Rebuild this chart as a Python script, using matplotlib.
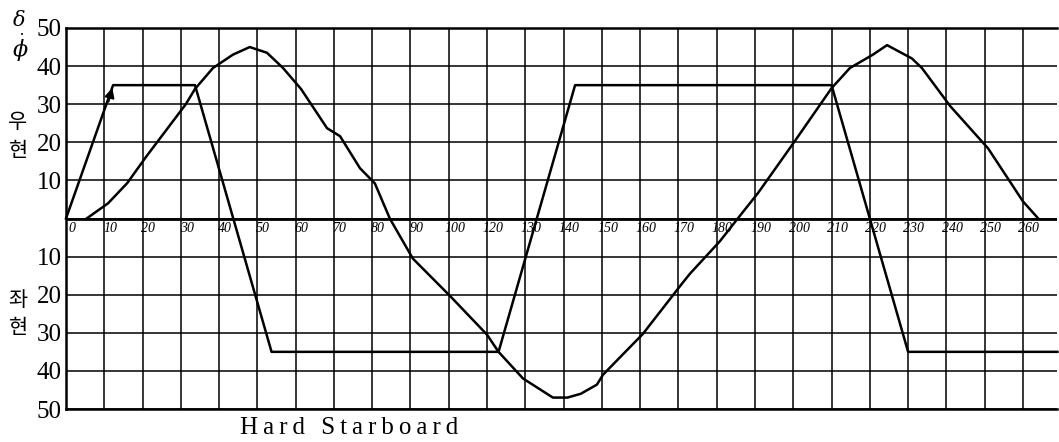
import matplotlib.pyplot as plt

# grid positions along the x axis and the hand-written labels under them
x_grid = list(range(0, 251, 10))
x_labels = ["0", "10", "20", "30", "40", "50", "60", "70", "80", "90", "100",
            "120", "130", "140", "150", "160", "170", "180", "190", "200",
            "210", "220", "230", "240", "250", "260"]

y_grid = [-50, -40, -30, -20, -10, 0, 10, 20, 30, 40, 50]
y_labels = ["50", "40", "30", "20", "10", "", "10", "20", "30", "40", "50"]

# rudder angle (delta)
rudder_x = [0, 12.3, 33.7, 53.7, 113, 133, 200, 220, 259]
rudder_y = [0, 35, 35, -35, -35, 35, 35, -35, -35]

# heading (phi)
heading_x = [5.4, 11, 16, 21, 31.3, 33.7, 38.4, 43.6, 48, 52.5, 56.7, 61.4,
             68.2, 71.6, 76.8, 80.7, 84.6, 90.6, 100.3, 110, 113, 119.4,
             127.2, 131, 134.5, 138.7, 140.3, 150.7, 161, 163, 170.8, 175.5,
             180.8, 190.4, 200, 204.8, 210.8, 214.5, 221, 223.6, 231, 240.9,
             250, 254]
heading_y = [0, 4, 9.3, 16.3, 30, 34, 39.5, 43, 45, 43.5, 39.5, 34,
             23.7, 21.6, 13.2, 9.2, 0, -10.5, -20.3, -30.5, -35, -42,
             -47, -47, -46, -43.6, -41, -30.3, -17, -14.5, -6, 0,
             6.7, 20.3, 34.2, 39.5, 43, 45.5, 42, 39.5, 29.5, 18.4,
             4.5, 0]

fig = plt.figure(figsize=(10.59, 4.42), dpi=100)
ax = fig.add_axes([66 / 1059, 1 - 409 / 442, 991 / 1059, 381 / 442])

ax.set_xlim(0, 258.9)
ax.set_ylim(-50, 50)

# grid
ax.set_xticks(x_grid)
ax.set_xticklabels([])
ax.set_yticks(y_grid)
ax.set_yticklabels(y_labels, family="Liberation Serif", fontsize=18)
ax.tick_params(length=0, pad=3)
ax.grid(True, color="black", linewidth=1.1)
ax.set_axisbelow(True)

ax.spines["right"].set_visible(False)
for s in ["left", "top", "bottom"]:
    ax.spines[s].set_linewidth(1.8)
ax.axhline(0, color="black", linewidth=2.0)

# curves
ax.plot(rudder_x, rudder_y, color="black", linewidth=1.8, clip_on=False)
ax.plot(heading_x, heading_y, color="black", linewidth=1.8)
ax.annotate("", xy=(rudder_x[1], rudder_y[1]),
            xytext=(rudder_x[1] - 1.4, rudder_y[1] - 5),
            arrowprops=dict(arrowstyle="-|>", color="black", lw=1.5,
                            mutation_scale=14))

# hand-written x labels just under the zero line
for xv, lab in zip(x_grid, x_labels):
    ax.text(xv + 1.5, -1.0, lab, ha="center", va="top", fontsize=10,
            family="Liberation Serif", style="italic")

# left side symbols
fig.text(19 / 1059, 1 - 21 / 442, "δ", ha="center", va="center",
         fontsize=15, family="DejaVu Serif", style="italic")
fig.text(22 / 1059, 1 - 35 / 442, "•", ha="center", va="center",
         fontsize=5, family="DejaVu Sans")
fig.text(20 / 1059, 1 - 50 / 442, "ϕ", ha="center", va="center",
         fontsize=16, family="DejaVu Serif", style="italic")

for ch, yp in [("우", 122), ("현", 151), ("좌", 300), ("현", 328)]:
    fig.text(18 / 1059, 1 - yp / 442, ch, ha="center", va="center",
             fontsize=15, family="Noto Sans CJK KR")

fig.text(240 / 1059, 1 - 428 / 442, "\u2009".join("Hard Starboard"),
         ha="left", va="center", fontsize=18, family="Liberation Serif")

fig.savefig("out.png", dpi=100)
